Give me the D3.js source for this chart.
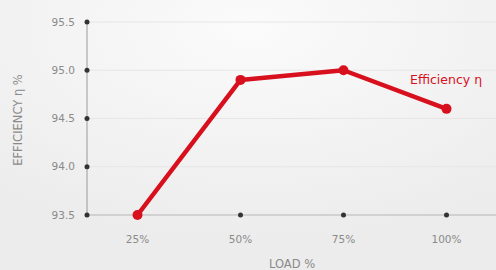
<!DOCTYPE html>
<html lang="en">
  <head>
    <meta charset="UTF-8" />
    <title>Efficiency vs Load</title>
    <script src="https://d3js.org/d3.v7.min.js"></script>
    <style>
      body {
        margin: 0;
        background: #f2f2f2;
      }
      .tick-label {
        font-family: "DejaVu Sans", sans-serif;
        font-size: 10.5px;
        fill: #8a8a8a;
      }
      .axis-title {
        font-family: "DejaVu Sans", sans-serif;
        font-size: 11.5px;
        fill: #8a8a8a;
      }
    </style>
  </head>
  <body>
    <div id="chart"></div>
    <script>
      // data
      const loads = ["25%", "50%", "75%", "100%"];
      const efficiency = [93.5, 94.9, 95.0, 94.6];
      const yTicks = [93.5, 94.0, 94.5, 95.0, 95.5];
      const seriesName = "Efficiency η";

      const W = 496, H = 270;
      const red = "#d8101e";

      const svg = d3.select("#chart").append("svg")
        .attr("width", W).attr("height", H);

      // background
      const defs = svg.append("defs");
      const grad = defs.append("radialGradient").attr("id", "bg")
        .attr("cx", "50%").attr("cy", "10%").attr("r", "80%");
      grad.append("stop").attr("offset", "0%").attr("stop-color", "#fbfbfb");
      grad.append("stop").attr("offset", "100%").attr("stop-color", "#ececec");
      svg.append("rect").attr("width", W).attr("height", H).attr("fill", "url(#bg)");

      const x = d3.scalePoint().domain(loads).range([86, 498]).padding(0.5);
      const y = d3.scaleLinear().domain([93.5, 95.5]).range([215, 22]);
      const x0 = 87;

      // grid
      svg.append("g").selectAll("line").data(yTicks.slice(1)).join("line")
        .attr("x1", x0).attr("x2", W)
        .attr("y1", d => y(d)).attr("y2", d => y(d))
        .attr("stroke", "#e6e6e6").attr("stroke-width", 1);

      // axes lines
      svg.append("line").attr("x1", x0).attr("x2", x0)
        .attr("y1", y(95.5)).attr("y2", y(93.5))
        .attr("stroke", "#9a9a9a");
      svg.append("line").attr("x1", x0).attr("x2", W)
        .attr("y1", y(93.5)).attr("y2", y(93.5))
        .attr("stroke", "#b5b5b5");

      // y ticks
      svg.append("g").selectAll("circle").data(yTicks).join("circle")
        .attr("cx", x0).attr("cy", d => y(d)).attr("r", 2.5).attr("fill", "#333");
      svg.append("g").selectAll("text").data(yTicks).join("text")
        .attr("class", "tick-label")
        .attr("x", x0 - 12).attr("y", d => y(d)).attr("dy", "0.35em")
        .attr("text-anchor", "end")
        .text(d => d.toFixed(1));

      // x ticks
      svg.append("g").selectAll("circle").data(loads).join("circle")
        .attr("cx", d => x(d)).attr("cy", y(93.5)).attr("r", 2.5).attr("fill", "#333");
      svg.append("g").selectAll("text").data(loads).join("text")
        .attr("class", "tick-label")
        .attr("x", d => x(d)).attr("y", 243)
        .attr("text-anchor", "middle")
        .text(d => d);

      // axis titles
      svg.append("text").attr("class", "axis-title")
        .attr("x", 292).attr("y", 268).attr("text-anchor", "middle")
        .text("LOAD %");
      svg.append("text").attr("class", "axis-title")
        .attr("transform", "translate(22,120) rotate(-90)")
        .attr("text-anchor", "middle")
        .text("EFFICIENCY η %");

      // series
      const pts = loads.map((l, i) => [x(l), y(efficiency[i])]);
      svg.append("path").datum(pts)
        .attr("d", d3.line())
        .attr("fill", "none").attr("stroke", red)
        .attr("stroke-width", 4.5).attr("stroke-linejoin", "round");
      svg.append("g").selectAll("circle").data(pts).join("circle")
        .attr("cx", d => d[0]).attr("cy", d => d[1]).attr("r", 5).attr("fill", red);

      svg.append("text")
        .attr("x", 410).attr("y", 84)
        .attr("font-family", "DejaVu Sans, sans-serif")
        .attr("font-size", 12.5).attr("fill", red)
        .text(seriesName);
    </script>
  </body>
</html>
